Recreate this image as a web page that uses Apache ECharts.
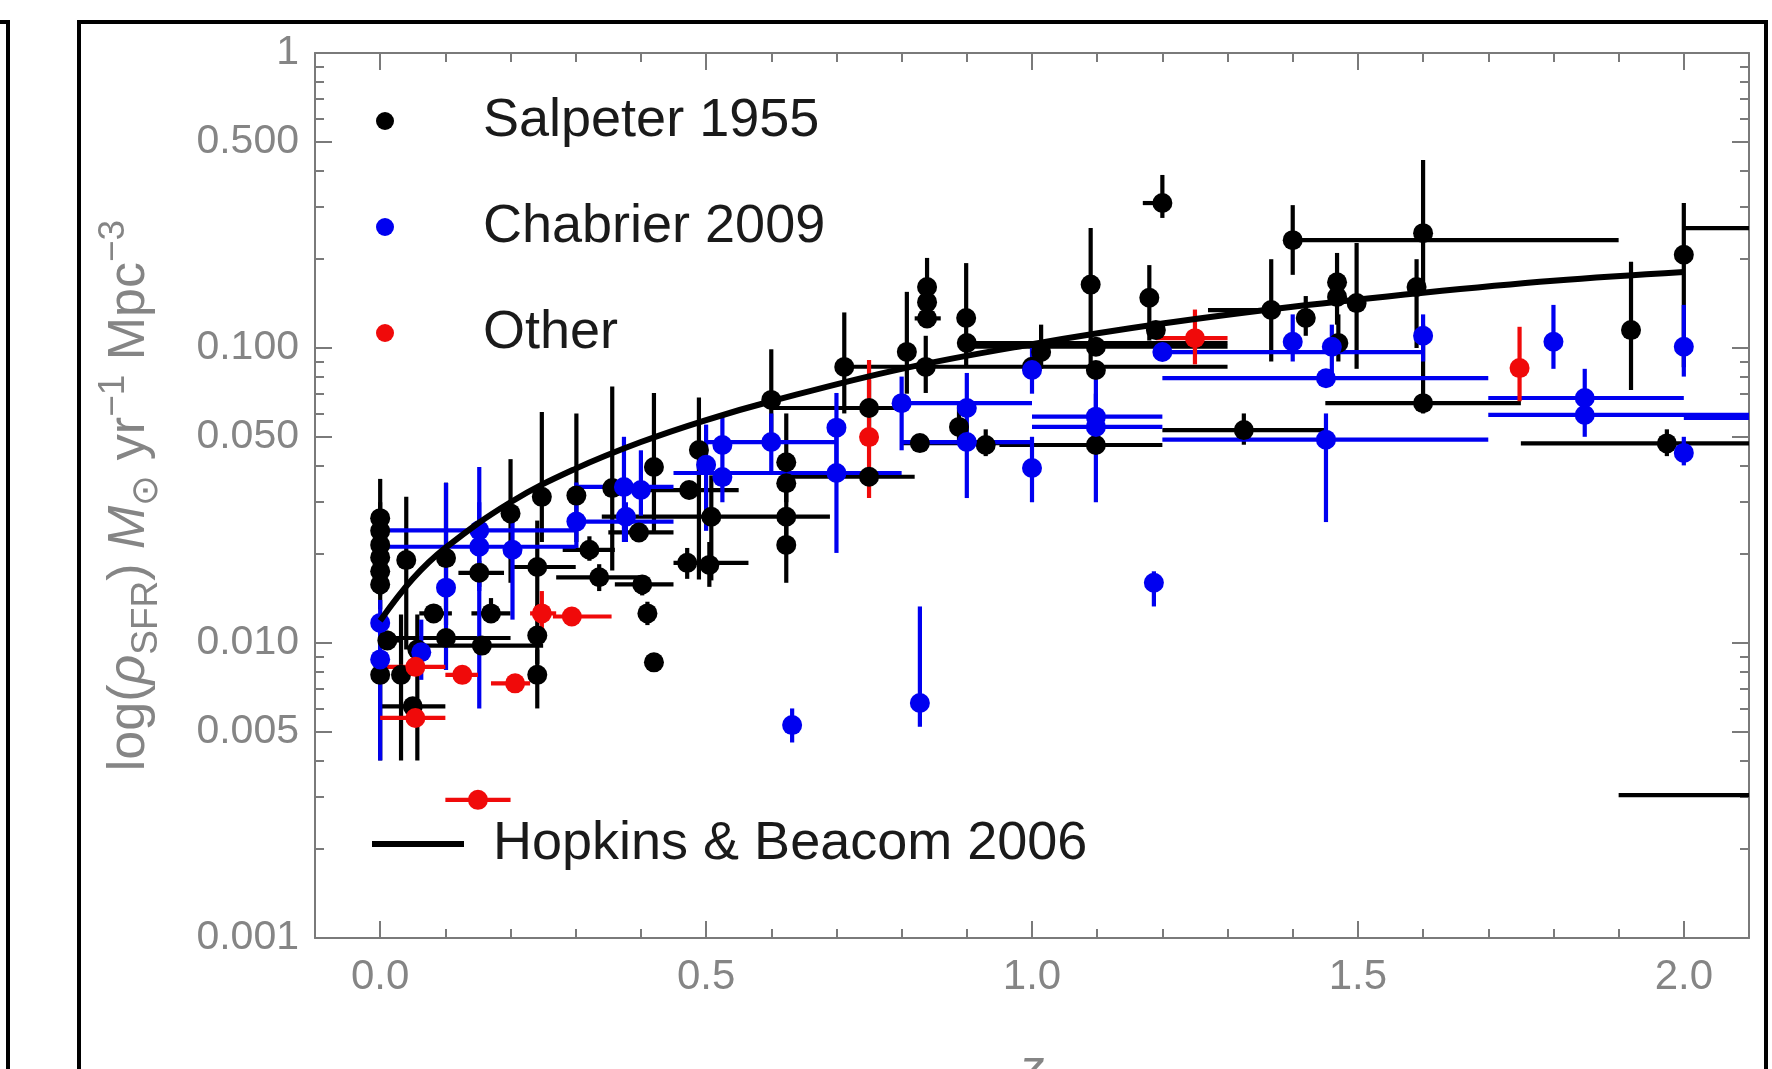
<!DOCTYPE html>
<html>
<head>
<meta charset="utf-8">
<title>Star formation rate density</title>
<script src="https://cdn.jsdelivr.net/npm/echarts@6/dist/echarts.min.js"></script>
<style>
  html, body { margin: 0; padding: 0; background: #fff; }
  #chart { width: 1772px; height: 1069px; }
</style>
</head>
<body>
<div id="chart"></div>
<script>
// each row: [z, rho, zMin, zMax, rhoMin, rhoMax]  (null = no bar)
const salpeterPoints = [
  [0, 0.0265, null, null, 0.021, 0.036],
  [0, 0.024, null, null, 0.019, 0.030],
  [0, 0.0215, null, null, 0.017, 0.027],
  [0, 0.0195, null, null, 0.016, 0.024],
  [0, 0.0175, null, null, 0.0145, 0.021],
  [0, 0.0158, null, null, 0.013, 0.019],
  [0, 0.0078, null, null, 0.004, 0.0105],
  [0.011, 0.0102, 0, 0.03, 0.0095, 0.011],
  [0.04, 0.0191, null, null, 0.0095, 0.0313],
  [0.032, 0.0078, null, null, 0.004, 0.0125],
  [0.057, 0.0095, null, null, 0.004, 0.0125],
  [0.05, 0.0061, 0, 0.1, null, null],
  [0.082, 0.0126, 0.06, 0.11, 0.0118, 0.0135],
  [0.101, 0.0194, null, null, 0.0115, 0.0349],
  [0.101, 0.0104, 0, 0.2, null, null],
  [0.156, 0.0098, 0.055, 0.25, null, null],
  [0.152, 0.0173, 0.12, 0.19, 0.0155, 0.019],
  [0.17, 0.0126, 0.14, 0.2, 0.0118, 0.0142],
  [0.2, 0.0275, null, null, 0.016, 0.042],
  [0.248, 0.0313, null, null, 0.022, 0.0607],
  [0.241, 0.0181, 0.2, 0.3, 0.0125, 0.026],
  [0.241, 0.0106, null, null, 0.0085, 0.0135],
  [0.241, 0.0078, null, null, 0.006, 0.0095],
  [0.301, 0.0316, null, null, 0.022, 0.06],
  [0.321, 0.0207, 0.28, 0.36, 0.019, 0.023],
  [0.336, 0.0167, 0.27, 0.4, 0.015, 0.0185],
  [0.356, 0.0335, null, null, 0.0176, 0.074],
  [0.397, 0.0237, 0.35, 0.45, null, null],
  [0.402, 0.0158, 0.36, 0.45, 0.0145, 0.017],
  [0.41, 0.0126, null, null, 0.0115, 0.0138],
  [0.42, 0.0086, null, null, null, null],
  [0.42, 0.0395, null, null, 0.0236, 0.0704],
  [0.471, 0.0187, 0.45, 0.565, 0.0165, 0.021],
  [0.505, 0.0184, null, null, 0.0155, 0.022],
  [0.474, 0.033, 0.4, 0.55, null, null],
  [0.489, 0.0451, null, null, 0.0164, 0.068],
  [0.508, 0.0268, null, null, 0.0163, 0.037],
  [0.6, 0.0667, null, null, 0.045, 0.099],
  [0.623, 0.041, null, null, 0.03, 0.06],
  [0.623, 0.0348, null, null, null, null],
  [0.623, 0.0268, 0.34, 0.69, 0.02, 0.033],
  [0.623, 0.0215, null, null, 0.016, 0.026],
  [0.712, 0.0863, null, null, 0.06, 0.132],
  [0.75, 0.0626, 0.6, 0.8, 0.05, 0.078],
  [0.75, 0.0366, 0.63, 0.82, null, null],
  [0.808, 0.097, null, null, 0.07, 0.155],
  [0.839, 0.161, null, null, 0.12, 0.202],
  [0.839, 0.143, null, null, null, null],
  [0.839, 0.126, 0.82, 0.86, null, null],
  [0.837, 0.0863, null, null, 0.0704, 0.11],
  [0.828, 0.0476, 0.8, 1.0, null, null],
  [0.888, 0.054, null, null, 0.047, 0.064],
  [0.899, 0.1264, null, null, 0.086, 0.194],
  [0.929, 0.0469, null, null, 0.043, 0.053],
  [0.9, 0.104, 0.9, 1.3, null, null],
  [1.014, 0.0969, null, null, 0.085, 0.12],
  [1.0, 0.0864, 0.7, 1.3, null, null],
  [1.09, 0.164, null, null, 0.089, 0.255],
  [1.098, 0.101, 0.9, 1.3, null, null],
  [1.098, 0.0842, null, null, null, null],
  [1.098, 0.0469, 0.95, 1.2, null, null],
  [1.18, 0.148, null, null, 0.106, 0.191],
  [1.19, 0.115, null, null, null, null],
  [1.2, 0.31, 1.17, 1.2, 0.276, 0.386],
  [1.325, 0.0527, 1.2, 1.45, 0.047, 0.06],
  [1.367, 0.1345, 1.27, 1.37, 0.09, 0.2],
  [1.4, 0.232, 1.4, 1.9, 0.177, 0.305],
  [1.42, 0.1264, null, null, 0.11, 0.15],
  [1.468, 0.167, null, null, 0.12, 0.21],
  [1.468, 0.149, null, null, null, null],
  [1.47, 0.104, null, null, 0.09, 0.13],
  [1.498, 0.142, null, null, 0.085, 0.227],
  [1.59, 0.161, null, null, 0.1, 0.2],
  [1.6, 0.245, null, null, 0.16, 0.434],
  [1.6, 0.065, 1.45, 1.75, 0.06, 0.12],
  [1.919, 0.115, null, null, 0.072, 0.196],
  [1.974, 0.0475, 1.75, 2.1, 0.043, 0.053],
  [2.0, 0.207, null, null, 0.086, 0.31],
  [2.3, 0.255, 2.0, 2.6, null, null],
  [2.25, 0.00305, 1.9, 2.6, null, null]
];

const chabrierPoints = [
  [0, 0.0117, null, null, 0.0098, 0.014],
  [0, 0.0088, null, null, 0.004, 0.0125],
  [0.063, 0.0093, null, null, 0.0075, 0.012],
  [0.101, 0.0154, null, null, 0.0081, 0.0349],
  [0.152, 0.0241, 0, 0.3, 0.015, 0.0395],
  [0.152, 0.0212, 0, 0.3, 0.006, 0.03],
  [0.203, 0.0207, null, null, 0.012, 0.028],
  [0.301, 0.0258, 0.3, 0.45, 0.021, 0.035],
  [0.374, 0.0338, 0.3, 0.45, 0.022, 0.05],
  [0.4, 0.033, null, null, 0.027, 0.045],
  [0.377, 0.0268, null, null, 0.022, 0.03],
  [0.5, 0.0402, null, null, 0.024, 0.055],
  [0.525, 0.0469, null, null, 0.03, 0.06],
  [0.525, 0.0365, null, null, null, null],
  [0.6, 0.048, 0.5, 0.7, 0.038, 0.06],
  [0.632, 0.00527, null, null, 0.0046, 0.006],
  [0.7, 0.0537, null, null, 0.04, 0.0704],
  [0.7, 0.0377, 0.45, 0.8, 0.0202, 0.05],
  [0.8, 0.065, 0.8, 1.0, 0.045, 0.08],
  [0.828, 0.00626, null, null, 0.0052, 0.0133],
  [0.9, 0.0626, null, null, 0.05, 0.0823],
  [0.9, 0.048, 0.8, 1.0, 0.031, 0.055],
  [1.0, 0.0842, null, null, 0.07, 0.1],
  [1.0, 0.0392, null, null, 0.03, 0.05],
  [1.098, 0.0585, 1.0, 1.2, 0.045, 0.07],
  [1.098, 0.054, 1.0, 1.2, 0.03, 0.09],
  [1.187, 0.016, null, null, 0.0133, 0.0175],
  [1.2, 0.0969, 1.2, 1.6, null, null],
  [1.4, 0.105, null, null, 0.09, 0.13],
  [1.46, 0.101, null, null, 0.08, 0.12],
  [1.451, 0.079, 1.2, 1.7, null, null],
  [1.451, 0.0489, 1.2, 1.7, 0.0257, 0.06],
  [1.6, 0.11, null, null, 0.09, 0.13],
  [1.8, 0.105, null, null, 0.085, 0.14],
  [1.848, 0.0677, 1.7, 2.0, 0.05, 0.085],
  [1.848, 0.0593, 1.7, 2.1, null, null],
  [2.0, 0.101, null, null, 0.08, 0.14],
  [2.0, 0.0441, null, null, 0.04, 0.05],
  [2.25, 0.058, 2.0, 2.5, null, null]
];

const otherPoints = [
  [0.054, 0.0083, 0, 0.1, null, null],
  [0.054, 0.00557, 0, 0.1, null, null],
  [0.126, 0.0078, 0.1, 0.15, null, null],
  [0.15, 0.00294, 0.1, 0.2, null, null],
  [0.207, 0.0073, 0.17, 0.23, null, null],
  [0.248, 0.0126, 0.23, 0.27, 0.011, 0.015],
  [0.294, 0.0123, 0.265, 0.355, null, null],
  [0.75, 0.0499, null, null, 0.031, 0.091],
  [1.25, 0.108, 1.19, 1.3, 0.088, 0.135],
  [1.748, 0.0855, null, null, 0.066, 0.118]
];

// Hopkins & Beacom 2006 curve
const hbZ = [0, 0.05, 0.1, 0.2, 0.3, 0.4, 0.5, 0.6, 0.8, 1.0, 1.2, 1.4, 1.6, 1.8, 2.0];
const hbRho = [0.0119, 0.0165, 0.021, 0.030, 0.039, 0.048, 0.057, 0.066, 0.085, 0.103, 0.121, 0.138, 0.154, 0.169, 0.181];

const xMajorTicks = [0, 0.5, 1, 1.5, 2];
const xMinorTicks = [0.1, 0.2, 0.3, 0.4, 0.6, 0.7, 0.8, 0.9, 1.1, 1.2, 1.3, 1.4, 1.6, 1.7, 1.8, 1.9];
const yTickValues = [1, 0.5, 0.1, 0.05, 0.01, 0.005, 0.001];
const yTickLabels = ['1', '0.500', '0.100', '0.050', '0.010', '0.005', '0.001'];
const yMinorMantissas = [2, 3, 4, 6, 7, 8, 9];

const BLACK = '#000000';
const BLUE = '#0000f0';
const RED = '#f00a0a';
const AXIS_GREY = '#7a7a7a';
const LABEL_GREY = '#858585';
const FONT = 'Liberation Sans, Arial, sans-serif';

// minor ticks of the log axis, in log10 space
const yMinorLog = [];
[0.001, 0.01, 0.1].forEach((d) => {
  yMinorMantissas.forEach((m) => yMinorLog.push(Math.log10(m * d)));
});
const yMajorLog = yTickValues.map((v) => Math.log10(v));

const chart = echarts.init(document.getElementById('chart'));

const plot = { left: 315, top: 53, width: 1434, height: 885 };

const tickAxisX = (position, values, len, extra) => Object.assign({
  type: 'value', position, min: -0.1, max: 2.1,
  axisLine: { show: false, onZero: false },
  axisTick: { show: true, inside: true, length: len, customValues: values,
    lineStyle: { color: AXIS_GREY, width: 2 } },
  axisLabel: { show: false },
  splitLine: { show: false }
}, extra || {});

const tickAxisY = (position, values, len, extra) => Object.assign({
  type: 'value', position, min: -3, max: 0,
  axisLine: { show: false, onZero: false },
  axisTick: { show: true, inside: true, length: len, customValues: values,
    lineStyle: { color: AXIS_GREY, width: 2 } },
  axisLabel: { show: false },
  splitLine: { show: false }
}, extra || {});

// error bars drawn through the axes' own coordinate mapping
const errorBars = (rows, color, width) => (params, api) => {
  const r = rows[params.dataIndex];
  const style = { stroke: color, lineWidth: width };
  const kids = [];
  if (r[2] != null) {
    const a = api.coord([r[2], r[1]]);
    const b = api.coord([r[3], r[1]]);
    kids.push({ type: 'line', shape: { x1: a[0], y1: a[1], x2: b[0], y2: b[1] }, style });
  }
  if (r[4] != null) {
    const a = api.coord([r[0], r[4]]);
    const b = api.coord([r[0], r[5]]);
    kids.push({ type: 'line', shape: { x1: a[0], y1: a[1], x2: b[0], y2: b[1] }, style });
  }
  return { type: 'group', children: kids };
};

const barSeries = (id, rows, color) => ({
  id, type: 'custom', xAxisIndex: 0, yAxisIndex: 0, clip: true, silent: true,
  data: rows.map((r) => [r[0], r[1]]),
  encode: { x: 0, y: 1 },
  renderItem: errorBars(rows, color, 4.2)
});

const dotSeries = (name, rows, color) => ({
  name, type: 'scatter', xAxisIndex: 0, yAxisIndex: 0, clip: true, silent: true,
  symbol: 'circle', symbolSize: 20,
  itemStyle: { color, opacity: 1 },
  data: rows.map((r) => [r[0], r[1]])
});

chart.setOption({
  animation: false,
  textStyle: { fontFamily: FONT },
  grid: Object.assign({ show: false, containLabel: false, outerBoundsMode: 'none' }, plot),
  legend: [
    {
      data: ['Salpeter 1955', 'Chabrier 2009', 'Other'],
      orient: 'vertical', left: 371, top: 86,
      icon: 'circle', itemWidth: 18, itemHeight: 18, itemGap: 46,
      selectedMode: false,
      textStyle: { fontSize: 54, color: '#1a1a1a', lineHeight: 60, padding: [0, 0, 0, 84] }
    },
    {
      data: ['Hopkins & Beacom 2006'],
      orient: 'vertical', left: 367, top: 809,
      icon: 'rect', itemWidth: 92, itemHeight: 6,
      selectedMode: false,
      textStyle: { fontSize: 54, color: '#1a1a1a', lineHeight: 60, padding: [0, 0, 0, 24] }
    }
  ],
  xAxis: [
    {
      type: 'value', position: 'bottom', min: -0.1, max: 2.1,
      axisLine: { show: true, onZero: false, lineStyle: { color: AXIS_GREY, width: 2 } },
      axisTick: { show: true, inside: true, length: 17, customValues: xMajorTicks,
        lineStyle: { color: AXIS_GREY, width: 2 } },
      axisLabel: { customValues: xMajorTicks, formatter: (v) => v.toFixed(1),
        color: LABEL_GREY, fontSize: 42, margin: 18 },
      splitLine: { show: false },
      name: 'z', nameLocation: 'middle', nameGap: 108,
      nameTextStyle: { fontSize: 50, fontStyle: 'italic', color: LABEL_GREY }
    },
    tickAxisX('bottom', xMinorTicks, 9),
    tickAxisX('top', xMajorTicks, 17, {
      axisLine: { show: true, onZero: false, lineStyle: { color: AXIS_GREY, width: 2 } }
    }),
    tickAxisX('top', xMinorTicks, 9)
  ],
  yAxis: [
    {
      type: 'log', logBase: 10, position: 'left', min: 0.001, max: 1,
      axisLine: { show: true, onZero: false, lineStyle: { color: AXIS_GREY, width: 2 } },
      axisTick: { show: false },
      axisLabel: { show: false },
      splitLine: { show: false },
      name: '{t|log(}{i|ρ}{s|SFR}{t|) }{i|M}{s|⊙}{t| yr}{p|−1}{t| Mpc}{p|−3}',
      nameLocation: 'middle', nameRotate: 90, nameGap: 150,
      nameTextStyle: {
        color: LABEL_GREY,
        rich: {
          t: { fontSize: 52, color: LABEL_GREY, lineHeight: 70, verticalAlign: 'middle' },
          i: { fontSize: 52, color: LABEL_GREY, fontStyle: 'italic', lineHeight: 70, verticalAlign: 'middle' },
          s: { fontSize: 37, color: LABEL_GREY, lineHeight: 70, verticalAlign: 'bottom' },
          p: { fontSize: 37, color: LABEL_GREY, lineHeight: 70, verticalAlign: 'top' }
        }
      }
    },
    tickAxisY('left', yMajorLog, 17, {
      axisLabel: {
        show: true, customValues: yMajorLog, color: LABEL_GREY, fontSize: 41, margin: 16,
        formatter: (v) => {
          const i = yMajorLog.findIndex((t) => Math.abs(t - v) < 1e-6);
          return i >= 0 ? yTickLabels[i] : '';
        }
      }
    }),
    tickAxisY('left', yMinorLog, 9),
    tickAxisY('right', yMajorLog, 17, {
      axisLine: { show: true, onZero: false, lineStyle: { color: AXIS_GREY, width: 2 } }
    }),
    tickAxisY('right', yMinorLog, 9)
  ],
  graphic: [
    // panel frame of the figure and the edge of the neighbouring panel
    { type: 'rect', silent: true, shape: { x: 79, y: 22, width: 1687, height: 1100 },
      style: { fill: null, stroke: '#000', lineWidth: 4 } },
    { type: 'polyline', silent: true, shape: { points: [[0, 22], [8, 22], [8, 1100]] },
      style: { fill: null, stroke: '#000', lineWidth: 4 } }
  ],
  series: [
    {
      name: 'Hopkins & Beacom 2006', type: 'line', xAxisIndex: 0, yAxisIndex: 0,
      data: hbZ.map((z, i) => [z, hbRho[i]]),
      smooth: 0.4, symbol: 'none', color: BLACK, silent: true,
      lineStyle: { color: BLACK, width: 6 }
    },
    barSeries('salpeter-bars', salpeterPoints, BLACK),
    dotSeries('Salpeter 1955', salpeterPoints, BLACK),
    barSeries('chabrier-bars', chabrierPoints, BLUE),
    dotSeries('Chabrier 2009', chabrierPoints, BLUE),
    barSeries('other-bars', otherPoints, RED),
    dotSeries('Other', otherPoints, RED)
  ]
});
</script>
</body>
</html>
